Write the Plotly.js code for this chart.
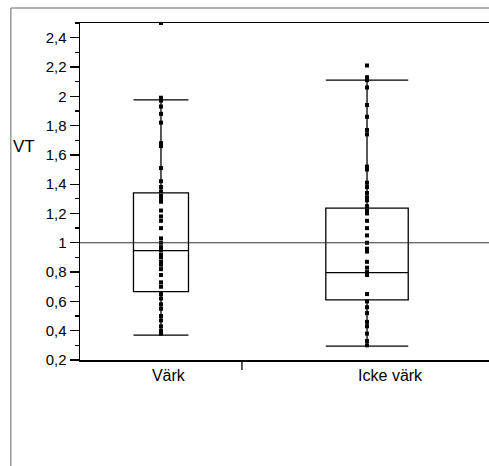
<!DOCTYPE html>
<html><head><meta charset="utf-8">
<script src="https://cdn.plot.ly/plotly-3.0.1.min.js"></script>
<style>html,body{margin:0;padding:0;background:#fff}</style>
</head><body><div id="chart" style="width:489px;height:466px"></div>
<script>
const categories = ["Värk", "Icke värk"];
const groupPos = [0, 1];
const q1Vals = [0.667, 0.61];
const medianVals = [0.947, 0.796];
const q3Vals = [1.34, 1.237];
const lowerWhisker = [0.37, 0.295];
const upperWhisker = [1.976, 2.11];
const boxWidths = [0.267, 0.40];
const varkPoints = [2.5, 1.99, 1.97, 1.93, 1.88, 1.82, 1.68, 1.66, 1.51, 1.42, 1.38, 1.35, 1.32, 1.30, 1.28, 1.22, 1.18, 1.15, 1.10, 1.03, 1.00, 0.97, 0.95, 0.92, 0.90, 0.87, 0.85, 0.82, 0.78, 0.73, 0.70, 0.65, 0.62, 0.58, 0.55, 0.50, 0.47, 0.43, 0.40, 0.38];
const ickePoints = [2.21, 2.13, 2.11, 2.06, 1.94, 1.86, 1.77, 1.74, 1.52, 1.50, 1.41, 1.38, 1.34, 1.31, 1.29, 1.25, 1.22, 1.20, 1.15, 1.10, 1.05, 1.00, 0.96, 0.94, 0.87, 0.83, 0.80, 0.78, 0.65, 0.60, 0.56, 0.52, 0.46, 0.43, 0.38, 0.33, 0.30];
const yTickVals = [0.2, 0.4, 0.6, 0.8, 1, 1.2, 1.4, 1.6, 1.8, 2, 2.2, 2.4];
const yTickText = ["0,2", "0,4", "0,6", "0,8", "1", "1,2", "1,4", "1,6", "1,8", "2", "2,2", "2,4"];
const xLabelPos = [0.036, 1.112];
const refLine = 1;
const separatorTick = 0.393;

const traces = [];
for (let i = 0; i < categories.length; i++) {
  traces.push({
    type: 'box', x: [groupPos[i]], q1: [q1Vals[i]], median: [medianVals[i]], q3: [q3Vals[i]],
    lowerfence: [lowerWhisker[i]], upperfence: [upperWhisker[i]],
    width: boxWidths[i], whiskerwidth: 1, boxpoints: false,
    line: {color: '#000', width: 1.3}, fillcolor: 'rgba(0,0,0,0)', showlegend: false, hoverinfo: 'skip'
  });
}
const pts = [varkPoints, ickePoints];
for (let i = 0; i < categories.length; i++) {
  traces.push({
    type: 'scatter', mode: 'markers', x: pts[i].map(() => groupPos[i]), y: pts[i],
    marker: {color: '#000', size: 4, symbol: 'square'}, showlegend: false, cliponaxis: true, hoverinfo: 'skip'
  });
}

const layout = {
  width: 489, height: 466,
  margin: {l: 80, r: 0, t: 23, b: 106},
  paper_bgcolor: '#fff', plot_bgcolor: '#fff',
  font: {family: 'Liberation Sans, Arial, sans-serif', color: '#000', size: 15},
  xaxis: {
    range: [-0.393, 1.592], showgrid: false, zeroline: false,
    tickvals: xLabelPos, ticktext: categories, ticks: '', tickfont: {size: 16},
    showline: true, linecolor: '#000', linewidth: 1.5, mirror: true
  },
  yaxis: {
    range: [0.2, 2.5], showgrid: false, zeroline: false,
    tickvals: yTickVals, ticktext: yTickText, ticks: 'outside', ticklen: 9, tickwidth: 1.3, tickcolor: '#000',
    minor: {dtick: 0.1, tick0: 0.1, ticks: 'outside', ticklen: 4, tickcolor: '#000', showgrid: false},
    showline: true, linecolor: '#000', linewidth: 1.5, tickfont: {size: 15}
  },
  shapes: [
    {type: 'line', xref: 'paper', yref: 'y', x0: 0, x1: 1, y0: refLine, y1: refLine, line: {color: '#333', width: 1}},
    {type: 'line', xref: 'x', yref: 'paper', x0: separatorTick, x1: separatorTick, y0: 0, y1: -0.03, line: {color: '#000', width: 1.3}},
    {type: 'path', xref: 'paper', yref: 'paper', path: 'M -0.169 -0.5 L -0.169 1.0445 L 1.5 1.0445', line: {color: '#666', width: 1}}
  ],
  annotations: [
    {text: 'VT', xref: 'paper', yref: 'y', x: -0.105, y: 1.655, xanchor: 'right', yanchor: 'middle', showarrow: false, font: {size: 17}}
  ]
};
Plotly.newPlot('chart', traces, layout, {staticPlot: true, displayModeBar: false});
</script></body></html>
